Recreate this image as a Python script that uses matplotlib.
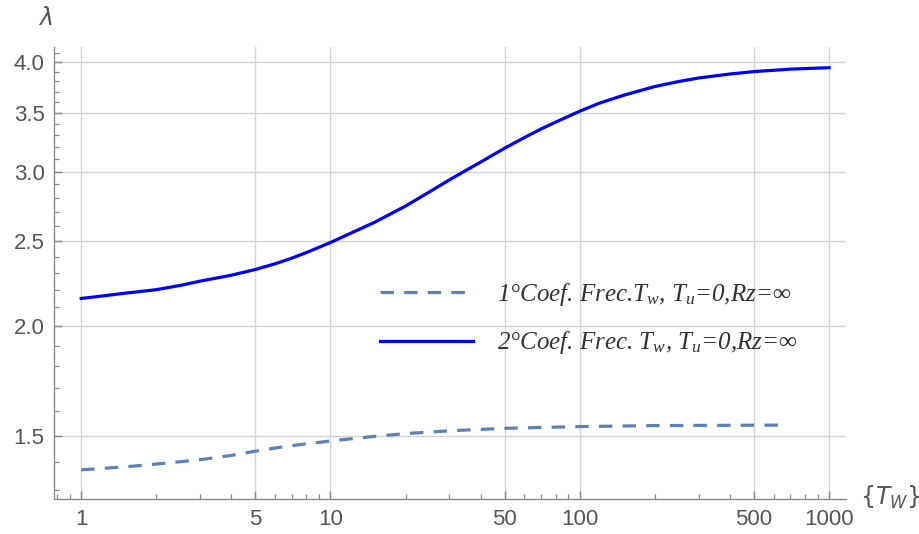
import numpy as np
import matplotlib.pyplot as plt
from matplotlib.ticker import FixedLocator, FormatStrFormatter, LogLocator, NullFormatter

plt.rcParams['mathtext.fontset'] = 'custom'
plt.rcParams['mathtext.it'] = 'Liberation Serif:italic'
plt.rcParams['mathtext.rm'] = 'Liberation Serif:italic'

# curve 1 (dashed) : first coefficient
tw_1 = [1, 1.5, 2, 3, 4, 5, 6, 7, 8, 10, 15, 20, 30, 50, 100, 200, 400, 630]
lam_1 = [1.371, 1.382, 1.392, 1.408, 1.424, 1.44, 1.452, 1.461, 1.468, 1.479, 1.497, 1.508,
         1.519, 1.529, 1.536, 1.540, 1.541, 1.542]

# curve 2 (solid) : second coefficient
tw_2 = [1, 1.2, 1.5, 2, 2.5, 3, 4, 5, 6, 7, 8, 10, 12, 15, 20, 25, 30, 35, 40, 50,
        60, 70, 80, 100, 120, 150, 200, 250, 300, 400, 500, 700, 1000]
lam_2 = [2.15, 2.163, 2.18, 2.20, 2.225, 2.25, 2.285, 2.32, 2.355, 2.39, 2.425, 2.49,
         2.55, 2.625, 2.74, 2.845, 2.935, 3.01, 3.075, 3.19, 3.28, 3.355, 3.415, 3.515,
         3.59, 3.665, 3.75, 3.80, 3.835, 3.875, 3.90, 3.925, 3.94]

labels = ["1°Coef. Frec.$T_w$, $T_u$=0,Rz=∞", "2°Coef. Frec. $T_w$, $T_u$=0,Rz=∞"]

x_major = [1, 5, 10, 50, 100, 500, 1000]
y_major = [1.5, 2.0, 2.5, 3.0, 3.5, 4.0]
y_minor = [1.3, 1.4, 1.6, 1.7, 1.8, 1.9, 2.1, 2.2, 2.3, 2.4, 2.6, 2.7, 2.8, 2.9,
           3.1, 3.2, 3.3, 3.4, 3.6, 3.7, 3.8, 3.9, 4.1]

gray = '#8a8a8a'
txt = '#555555'

fig = plt.figure(figsize=(9.19, 5.34), dpi=100)
ax = fig.add_axes([0.0591, 0.0655, 0.8615, 0.8465])

ax.plot(tw_1, lam_1, color='#5e81b5', lw=2.3, ls=(0, (4.2, 3.2)), label=labels[0])
ax.plot(tw_2, lam_2, color='#0000ff', lw=2.3, label=labels[1])

ax.set_xscale('log')
ax.set_yscale('log')
ax.set_xlim(0.78, 1170)
ax.set_ylim(1.27, 4.16)

ax.xaxis.set_major_locator(FixedLocator(x_major))
ax.xaxis.set_major_formatter(FormatStrFormatter('%g'))
ax.xaxis.set_minor_locator(LogLocator(base=10, subs=np.arange(2, 10)))
ax.xaxis.set_minor_formatter(NullFormatter())
ax.yaxis.set_major_locator(FixedLocator(y_major))
ax.yaxis.set_major_formatter(FormatStrFormatter('%.1f'))
ax.yaxis.set_minor_locator(FixedLocator(y_minor))
ax.yaxis.set_minor_formatter(NullFormatter())

for s in ['top', 'right']:
    ax.spines[s].set_visible(False)
for s in ['left', 'bottom']:
    ax.spines[s].set_color(gray)
    ax.spines[s].set_linewidth(1.0)

ax.tick_params(which='major', direction='in', length=6, width=1, color=gray,
               labelcolor=txt, labelsize=16, pad=7)
ax.tick_params(which='minor', direction='in', length=3.5, width=0.9, color=gray)
for t in ax.get_xticklabels() + ax.get_yticklabels():
    t.set_family('Liberation Sans')

ax.grid(True, which='major', color='#d4d4d4', lw=1.0)
ax.set_axisbelow(True)

fig.text(45 / 919, 1 - 18 / 534, r'$\lambda$', color=txt, fontsize=17,
         ha='center', va='center', math_fontfamily='dejavusans')
fig.text(890 / 919, 1 - 497 / 534, r'$\{T_W\}$', color=txt, fontsize=17,
         ha='center', va='center', math_fontfamily='dejavusans')

leg = ax.legend(loc='upper left', bbox_to_anchor=(380 / 919, 1 - 281 / 534),
                bbox_transform=fig.transFigure, frameon=False, borderpad=0,
                borderaxespad=0, handlelength=3.72, handletextpad=0.96,
                labelspacing=0.85, prop={'family': ['Liberation Serif', 'DejaVu Serif'],
                                         'style': 'italic', 'size': 18})
for t in leg.get_texts():
    t.set_color('#333333')

fig.savefig('out.png', dpi=100)
